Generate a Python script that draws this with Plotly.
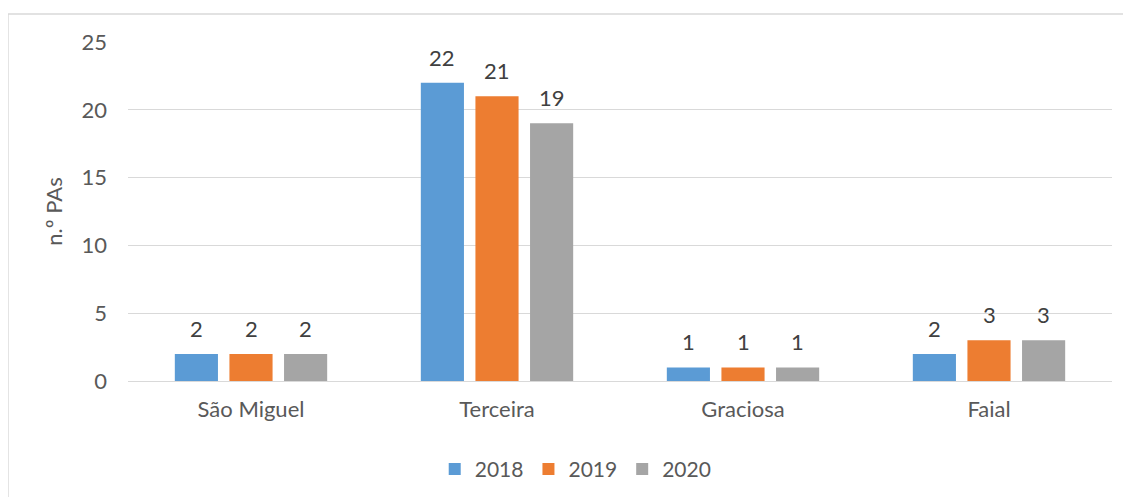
import plotly.graph_objects as go

categories = ["São Miguel", "Terceira", "Graciosa", "Faial"]
years = ["2018", "2019", "2020"]
values_2018 = [2, 22, 1, 2]
values_2019 = [2, 21, 1, 3]
values_2020 = [2, 19, 1, 3]
colors = ["#5B9BD5", "#ED7D31", "#A5A5A5"]

FONT = "Lato, Open Sans, sans-serif"
FS = 22

fig = go.Figure()
annotations = []
series = [values_2018, values_2019, values_2020]
for i, (name, vals, col) in enumerate(zip(years, series, colors)):
    fig.add_trace(go.Bar(
        x=categories, y=vals, name=name,
        marker=dict(color=col, line=dict(width=0)),
    ))
    for cat, v in zip(categories, vals):
        annotations.append(dict(
            x=cat, y=v, xref="x", yref="y", text=str(v), showarrow=False,
            xanchor="center", yanchor="bottom", xshift=(i - 1) * 54.6, yshift=10,
            font=dict(family=FONT, size=FS, color="#404040"),
        ))

fig.update_layout(
    width=1123, height=489,
    margin=dict(l=120, r=19, t=34, b=116, autoexpand=False),
    paper_bgcolor="white", plot_bgcolor="white",
    barmode="group", bargap=0.334, bargroupgap=0.21,
    font=dict(family=FONT, color="#595959", size=FS),
    legend=dict(orientation="h", x=0.455, xanchor="center", y=-0.2, yanchor="top",
                font=dict(size=FS - 1, color="#595959"), itemwidth=30,
                traceorder="normal"),
    xaxis=dict(showgrid=False, showline=True, linecolor="#D9D9D9", linewidth=1,
               ticks="", tickfont=dict(size=FS, color="#595959"), ticklabelstandoff=9),
    yaxis=dict(range=[0, 25], dtick=5, showgrid=True, gridcolor="#D9D9D9", gridwidth=1,
               zeroline=False, ticks="", tickfont=dict(size=FS, color="#595959"),
               ticklabelstandoff=20,
               title=dict(text="n.º PAs", font=dict(size=FS, color="#595959"), standoff=12)),
    annotations=annotations,
    shapes=[
        dict(type="line", xref="paper", yref="paper", x0=-0.122, x1=-0.122, y0=1.0826, y1=-0.4,
             line=dict(color="#D9D9D9", width=1.5)),
        dict(type="line", xref="paper", yref="paper", x0=-0.122, x1=1.03, y0=1.0826, y1=1.0826,
             line=dict(color="#D9D9D9", width=1.5)),
    ],
)

fig.write_html("out.html")
